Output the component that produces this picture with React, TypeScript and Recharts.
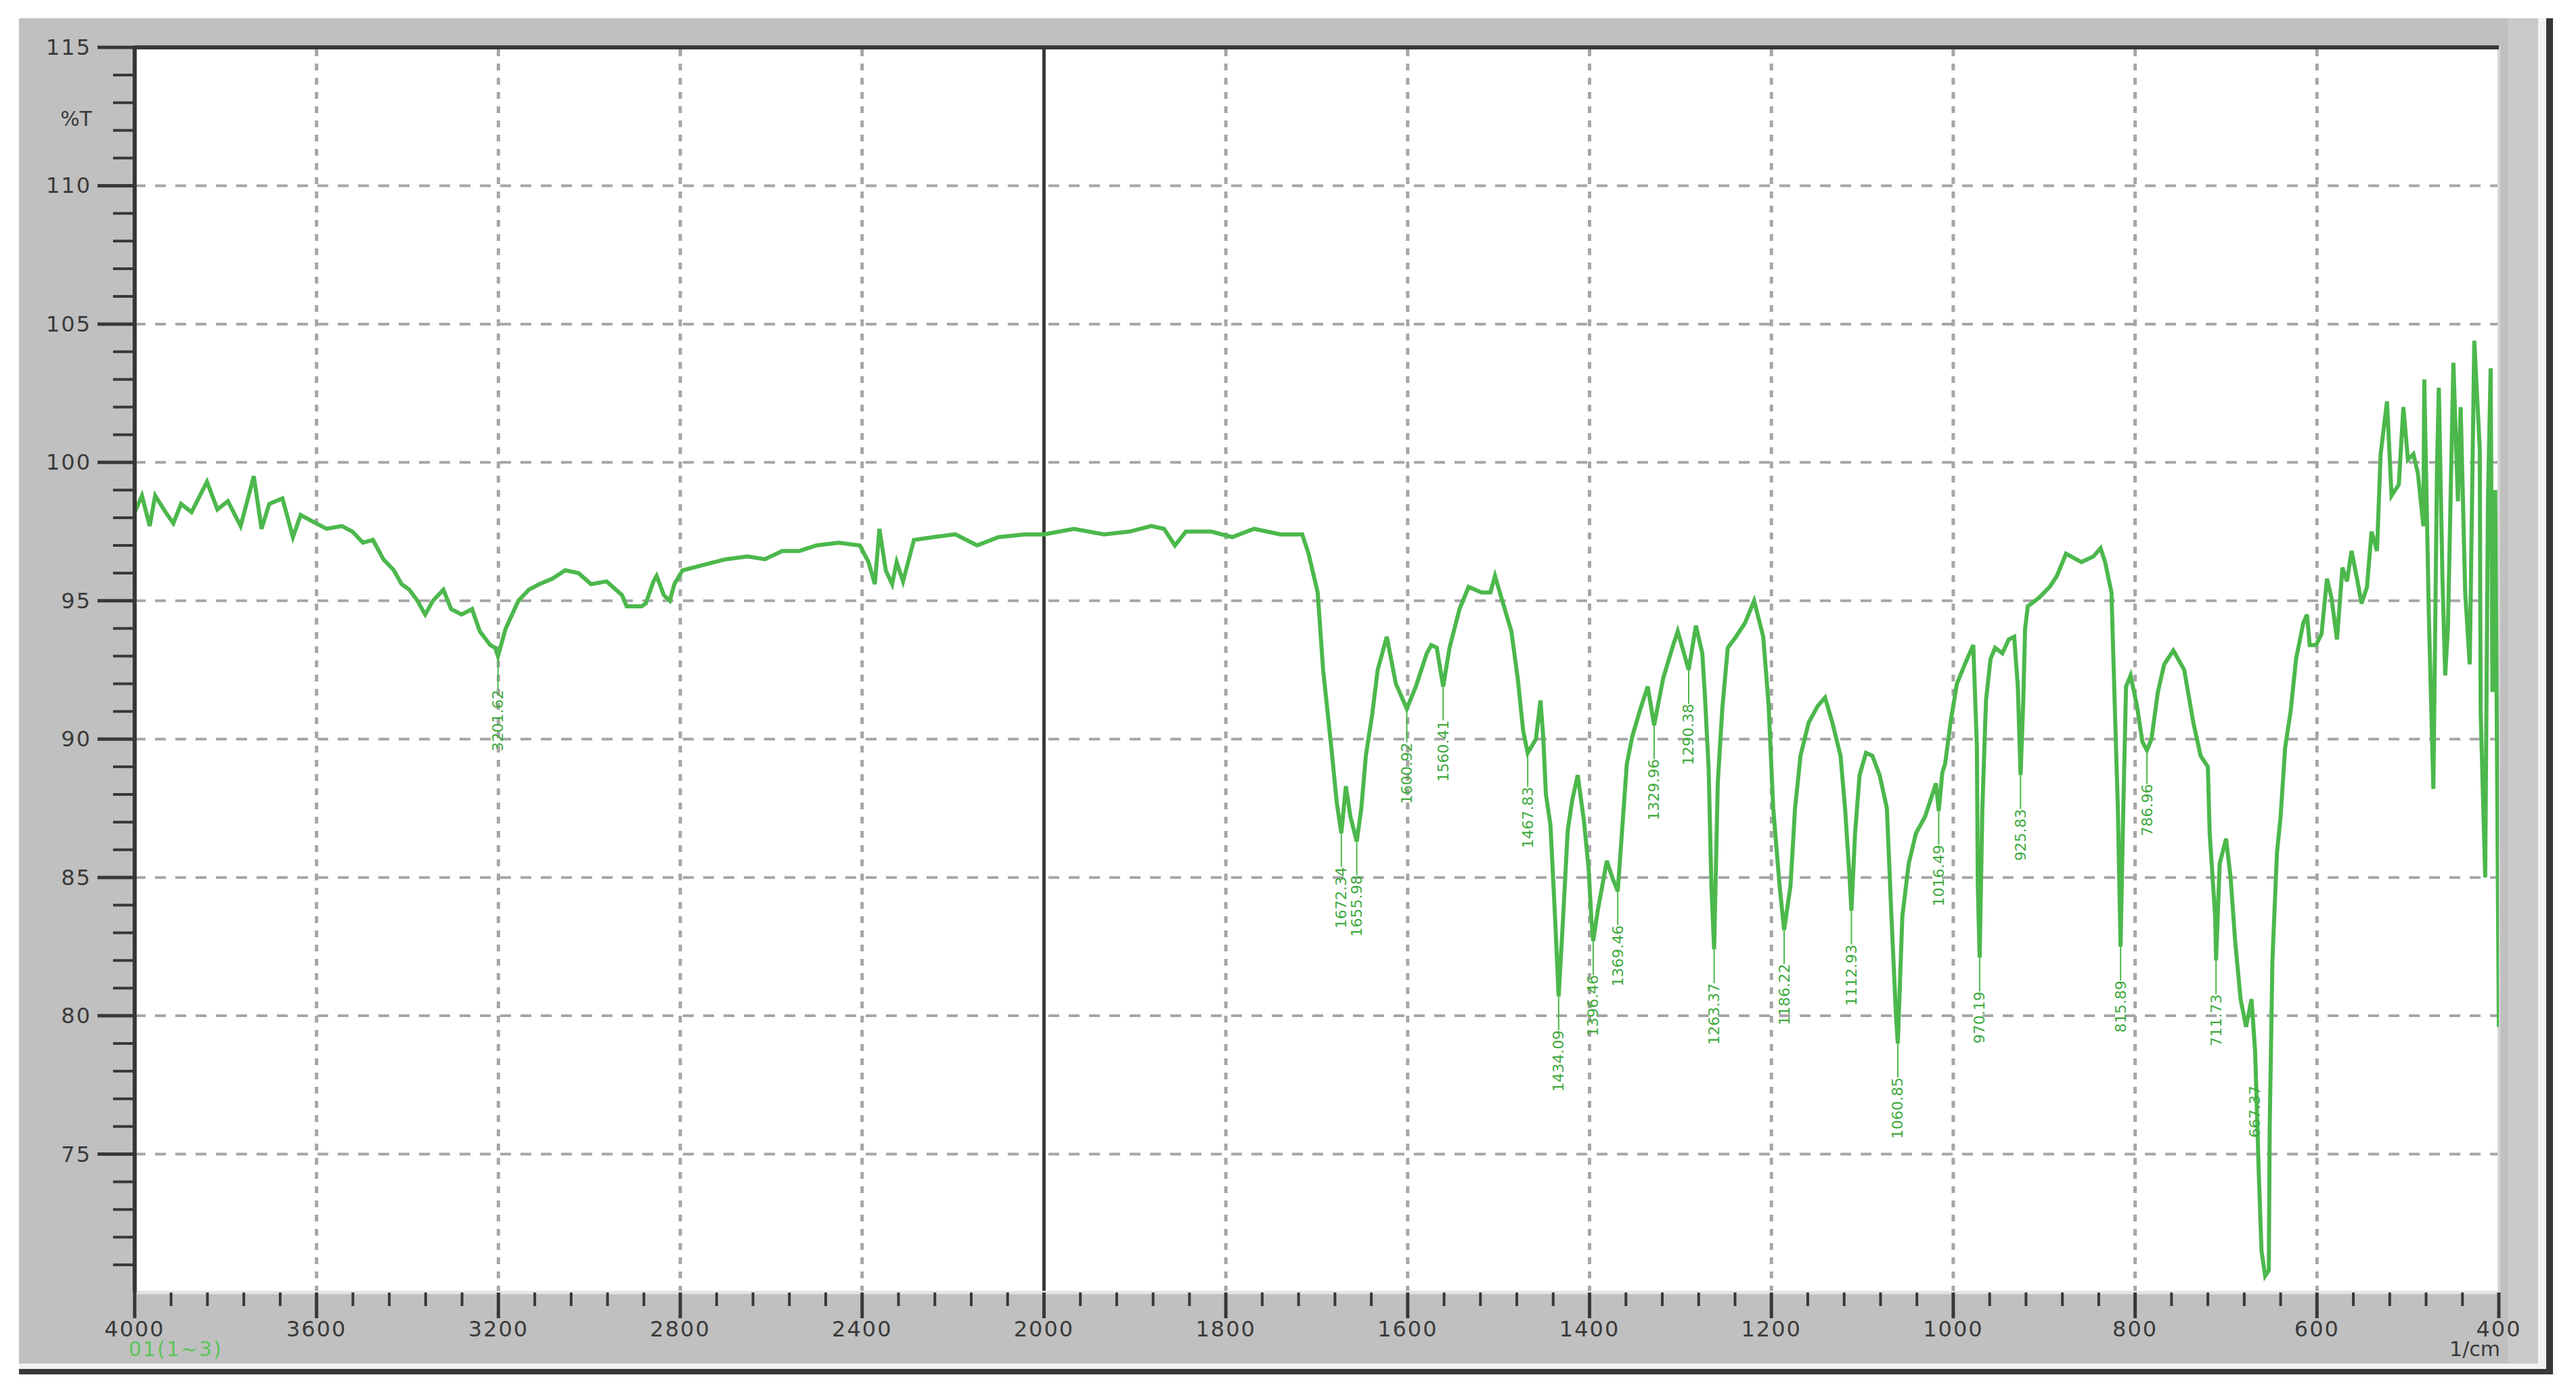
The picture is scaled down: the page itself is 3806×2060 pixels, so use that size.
import {
  ComposedChart,
  Line,
  XAxis,
  YAxis,
  ReferenceLine,
  ReferenceDot,
} from "recharts";

// [wavenumber (1/cm), %T]
const regionHigh: [number, number][] = [
  [4000, 98.2], [3984, 98.8], [3967, 97.7], [3955, 98.8], [3932, 98.2], [3915, 97.8],
  [3898, 98.5], [3875, 98.2], [3841, 99.3], [3818, 98.3], [3795, 98.6], [3767, 97.7],
  [3738, 99.5], [3721, 97.6], [3704, 98.5], [3675, 98.7], [3652, 97.3], [3635, 98.1],
  [3601, 97.8], [3578, 97.6], [3544, 97.7], [3521, 97.5], [3498, 97.1], [3476, 97.2],
  [3453, 96.5], [3430, 96.1], [3413, 95.6], [3396, 95.4], [3378, 95.0], [3361, 94.5],
  [3344, 95.0], [3321, 95.4], [3304, 94.7], [3281, 94.5], [3258, 94.7], [3241, 93.9],
  [3218, 93.4], [3207, 93.3], [3201, 93.0], [3184, 94.0], [3156, 95.0], [3133, 95.4],
  [3110, 95.6], [3081, 95.8], [3053, 96.1], [3024, 96.0], [2996, 95.6], [2962, 95.7],
  [2928, 95.2], [2918, 94.8], [2899, 94.8], [2885, 94.8], [2876, 94.9], [2859, 95.7],
  [2852, 95.9], [2836, 95.2], [2823, 95.0], [2813, 95.6], [2795, 96.1], [2748, 96.3],
  [2700, 96.5], [2652, 96.6], [2614, 96.5], [2576, 96.8], [2538, 96.8], [2500, 97.0],
  [2452, 97.1], [2405, 97.0], [2386, 96.4], [2372, 95.6], [2362, 97.6], [2348, 96.1],
  [2334, 95.6], [2324, 96.4], [2310, 95.7], [2286, 97.2], [2243, 97.3], [2195, 97.4],
  [2147, 97.0], [2100, 97.3], [2042, 97.4], [2000, 97.4],
];

const regionMid: [number, number][] = [
  [1967, 97.6], [1934, 97.4], [1906, 97.5], [1882, 97.7], [1868, 97.6], [1856, 97.0],
  [1844, 97.5], [1816, 97.5], [1793, 97.3], [1769, 97.6], [1740, 97.4], [1716, 97.4],
  [1709, 96.7], [1699, 95.3], [1693, 92.5], [1684, 89.7], [1678, 87.7], [1673, 86.6],
  [1668, 88.3], [1663, 87.2], [1656, 86.3], [1651, 87.5], [1646, 89.4], [1639, 90.9],
  [1633, 92.5], [1623, 93.7], [1613, 92.0], [1601, 91.1], [1591, 91.9], [1579, 93.1],
  [1574, 93.4], [1568, 93.3], [1561, 91.9], [1554, 93.3], [1543, 94.7], [1533, 95.5],
  [1519, 95.3], [1509, 95.3], [1504, 95.9], [1496, 95.0], [1486, 93.9], [1479, 92.2],
  [1473, 90.3], [1468, 89.5], [1459, 90.0], [1454, 91.4], [1451, 90.1], [1448, 88.0],
  [1443, 86.9], [1438, 83.6], [1434, 80.7], [1429, 83.6], [1424, 86.7], [1419, 87.8],
  [1413, 88.7], [1406, 87.0], [1401, 85.3], [1398, 83.5], [1396, 82.7], [1391, 83.8],
  [1386, 84.7], [1381, 85.6], [1375, 85.0], [1369, 84.5], [1364, 86.8], [1359, 89.1],
  [1353, 90.1], [1344, 91.1], [1336, 91.9], [1329, 90.5], [1319, 92.2], [1308, 93.4],
  [1303, 93.9], [1291, 92.5], [1283, 94.1], [1276, 93.1], [1273, 91.5], [1269, 88.9],
  [1266, 84.7], [1263, 82.4], [1259, 88.4], [1254, 91.1], [1248, 93.3], [1239, 93.7],
  [1229, 94.2], [1219, 95.0], [1209, 93.7], [1203, 91.2], [1198, 87.5], [1191, 84.7],
  [1186, 83.1], [1179, 84.7], [1174, 87.5], [1168, 89.4], [1159, 90.6], [1149, 91.2],
  [1141, 91.5], [1133, 90.6], [1124, 89.4], [1119, 87.5], [1114, 85.0], [1112, 83.8],
  [1108, 86.6], [1103, 88.7], [1096, 89.5], [1089, 89.4], [1081, 88.7], [1073, 87.5],
  [1068, 83.6], [1063, 80.0], [1061, 79.0], [1056, 83.6], [1049, 85.5], [1041, 86.6],
  [1031, 87.2], [1023, 88.0], [1019, 88.4], [1016, 87.4], [1012, 88.8], [1009, 89.1],
  [1003, 90.6],
];

const regionLow: [number, number][] = [
  [996, 92.0], [986, 92.8], [978, 93.4], [974, 89.7], [973, 84.7], [971, 82.1],
  [968, 87.5], [964, 91.4], [959, 92.9], [954, 93.3], [946, 93.1], [939, 93.6],
  [933, 93.7], [929, 91.9], [926, 88.7], [923, 91.4], [921, 94.0], [918, 94.8],
  [906, 95.1], [894, 95.5], [886, 95.9], [876, 96.7], [859, 96.4], [846, 96.6],
  [838, 96.9], [833, 96.4], [826, 95.3], [823, 91.9], [819, 87.5], [816, 82.5],
  [813, 87.5], [810, 91.9], [805, 92.3], [798, 91.2], [792, 89.9], [787, 89.6],
  [782, 90.0], [775, 91.7], [768, 92.7], [758, 93.2], [746, 92.5], [736, 90.6],
  [728, 89.4], [720, 89.0], [718, 86.6], [712, 83.6], [711, 82.0], [707, 85.5],
  [700, 86.4], [695, 85.0], [690, 82.7], [684, 80.6], [678, 79.6], [672, 80.6],
  [668, 78.7], [664, 74.3], [661, 71.5], [657, 70.6], [653, 70.8], [652, 76.0],
  [649, 82.0], [644, 85.9], [640, 87.2], [635, 89.7], [629, 91.0], [623, 92.9],
  [615, 94.2], [611, 94.5], [608, 93.4], [601, 93.4], [595, 93.8], [589, 95.8],
  [584, 95.1], [578, 93.6], [572, 96.2], [567, 95.7], [562, 96.8], [556, 95.8],
  [551, 94.9], [545, 95.5], [540, 97.5], [534, 96.8], [530, 100.3], [523, 102.2],
  [518, 98.8], [510, 99.2], [505, 102.0], [500, 100.1], [494, 100.3], [489, 99.6],
  [483, 97.7], [482, 103.0], [477, 94.5], [472, 88.2], [468, 99.8], [466, 102.7],
  [462, 95.8], [459, 92.3], [456, 94.0], [450, 103.6], [445, 98.6], [442, 102.0],
  [437, 95.3], [432, 92.7], [427, 104.4], [421, 100.5], [420, 91.0], [415, 85.0],
  [412, 98.6], [409, 103.4], [407, 91.7], [404, 99.0], [400, 79.6],
];

const peakWavenumbers = [
  3201, 1673, 1656, 1601, 1561, 1468, 1434, 1396, 1369, 1329, 1291,
  1263, 1186, 1112, 1061, 1016, 971, 926, 816, 787, 711, 668,
];
const peakTransmittance = [
  93.0, 86.6, 86.3, 91.1, 91.9, 89.5, 80.7, 82.7, 84.5, 90.5, 92.5,
  82.4, 83.1, 83.8, 79.0, 87.4, 82.1, 88.7, 82.5, 89.6, 82.0, 78.7,
];
const peakLabels = [
  "3201.62", "1672.34", "1655.98", "1600.92", "1560.41", "1467.83", "1434.09",
  "1396.46", "1369.46", "1329.96", "1290.38", "1263.37", "1186.22", "1112.93",
  "1060.85", "1016.49", "970.19", "925.83", "815.89", "786.96", "711.73", "667.37",
];

const xMajorTicks = [4000, 3600, 3200, 2800, 2400, 2000, 1800, 1600, 1400, 1200, 1000, 800, 600, 400];
const yMajorTicks = [115, 110, 105, 100, 95, 90, 85, 80, 75];

const GREEN = "#4cb84c";
const DARK = "#383838";
const FONT = "'DejaVu Sans', sans-serif";

// split axis like the instrument software: 4000-2000 drawn at half the scale of 2000-400
const toX = (wn: number) => (wn >= 2000 ? (4000 - wn) / 2 : 1000 + (2000 - wn));
const fromX = (p: number) => (p <= 1000 ? 4000 - 2 * p : 2000 - (p - 1000));

const spectrum = [...regionHigh, ...regionMid, ...regionLow].map(([wn, t]) => ({
  x: toX(wn),
  t,
}));

const xMajorPos = new Set(xMajorTicks.map(toX));
const xTicks: number[] = [];
for (let p = 0; p <= 2600; p += 40) xTicks.push(p);
const yTicks: number[] = [];
for (let v = 71; v <= 115; v++) yTicks.push(v);

const XTick = ({ x, y, payload }: any) => {
  const major = xMajorPos.has(payload.value);
  return (
    <g>
      <line x1={x} x2={x} y1={y} y2={y + (major ? 38 : 20)} stroke={DARK} strokeWidth={major ? 5 : 4} />
      {major && (
        <text
          x={x}
          y={y + 54}
          textAnchor="middle"
          dominantBaseline="central"
          fontFamily={FONT}
          fontSize={32}
          letterSpacing={2}
          fill="#3a3a3a"
        >
          {fromX(payload.value)}
        </text>
      )}
    </g>
  );
};

const YTick = ({ x, y, payload }: any) => {
  const major = yMajorTicks.includes(payload.value);
  return (
    <g>
      <line x1={x - (major ? 55 : 32)} x2={x} y1={y} y2={y} stroke={DARK} strokeWidth={major ? 5 : 4} />
      {major && (
        <text
          x={x - 64}
          y={y}
          textAnchor="end"
          dominantBaseline="central"
          fontFamily={FONT}
          fontSize={32}
          letterSpacing={2}
          fill="#3a3a3a"
        >
          {payload.value}
        </text>
      )}
    </g>
  );
};

const PeakMark = ({ cx, cy, text }: any) => {
  const top = cy + 50;
  return (
    <g>
      <line x1={cx} x2={cx} y1={cy} y2={top} stroke={GREEN} strokeWidth={2} />
      <text
        x={cx}
        y={top}
        transform={`rotate(-90 ${cx} ${top})`}
        textAnchor="end"
        dominantBaseline="central"
        fontFamily={FONT}
        fontSize={22}
        fill="#3daa3d"
      >
        {text}
      </text>
    </g>
  );
};

const box = (left: number, top: number, width: number, height: number, background: string) => ({
  position: "absolute" as const,
  left,
  top,
  width,
  height,
  background,
});

const App = () => {
  return (
    <div style={{ position: "relative", width: 3806, height: 2060, background: "#fff", overflow: "hidden" }}>
      <style>{"body{margin:0}"}</style>
      <div style={box(28, 27, 3722, 1988, "#c0c0c0")} />
      <div style={box(3705, 27, 45, 1988, "#c9c9c9")} />
      <div style={box(3750, 27, 12, 2004, "#f2f2f2")} />
      <div style={box(3762, 27, 10, 2004, DARK)} />
      <div style={box(28, 2015, 3734, 8, "#f2f2f2")} />
      <div style={box(28, 2023, 3744, 8, DARK)} />
      <div style={box(199, 70, 3493, 1840, "#fff")} />

      <div
        style={{
          position: "absolute",
          left: 60,
          top: 158,
          width: 76,
          textAlign: "right",
          fontFamily: FONT,
          fontSize: 30,
          color: "#3a3a3a",
        }}
      >
        %T
      </div>
      <div
        style={{
          position: "absolute",
          left: 190,
          top: 1976,
          fontFamily: FONT,
          fontSize: 30,
          letterSpacing: 2,
          color: "#5cc45c",
        }}
      >
        01(1~3)
      </div>
      <div
        style={{
          position: "absolute",
          left: 3560,
          top: 1976,
          width: 134,
          textAlign: "right",
          fontFamily: FONT,
          fontSize: 30,
          color: "#3a3a3a",
        }}
      >
        1/cm
      </div>

      <div style={{ position: "absolute", left: 0, top: 0 }}>
        <ComposedChart
          width={3806}
          height={2060}
          data={spectrum}
          margin={{ top: 70, right: 114, bottom: 50, left: 99 }}
        >
          <XAxis
            dataKey="x"
            type="number"
            domain={[0, 2600]}
            ticks={xTicks}
            interval={0}
            allowDataOverflow
            height={100}
            tickSize={0}
            tickMargin={0}
            tickLine={false}
            axisLine={{ stroke: "#e4e4e4", strokeWidth: 5 }}
            tick={<XTick />}
          />
          <YAxis
            type="number"
            domain={[70, 115]}
            ticks={yTicks}
            interval={0}
            allowDataOverflow
            width={100}
            tickSize={0}
            tickMargin={0}
            tickLine={false}
            axisLine={{ stroke: DARK, strokeWidth: 6 }}
            tick={<YTick />}
          />
          {yMajorTicks
            .filter((v) => v < 115)
            .map((v) => (
              <ReferenceLine key={`h-${v}`} y={v} stroke="#a6a6a6" strokeWidth={4} strokeDasharray="16 14" />
            ))}
          {xMajorTicks
            .filter((wn) => wn !== 4000 && wn !== 2000 && wn !== 400)
            .map((wn) => (
              <ReferenceLine key={`v-${wn}`} x={toX(wn)} stroke="#a6a6a6" strokeWidth={5} strokeDasharray="10 11" />
            ))}
          <ReferenceLine x={toX(2000)} stroke={DARK} strokeWidth={5} />
          <ReferenceLine x={toX(400)} stroke="#d6d6d6" strokeWidth={4} />
          <ReferenceLine y={115} stroke={DARK} strokeWidth={6} />
          <Line
            type="linear"
            dataKey="t"
            stroke={GREEN}
            strokeWidth={6}
            dot={false}
            activeDot={false}
            isAnimationActive={false}
          />
          {peakWavenumbers.map((wn, i) => (
            <ReferenceDot
              key={`peak-${wn}`}
              x={toX(wn)}
              y={peakTransmittance[i]}
              r={0}
              shape={(p: any) => <PeakMark cx={p.cx} cy={p.cy} text={peakLabels[i]} />}
            />
          ))}
        </ComposedChart>
      </div>
    </div>
  );
};

export default App;
